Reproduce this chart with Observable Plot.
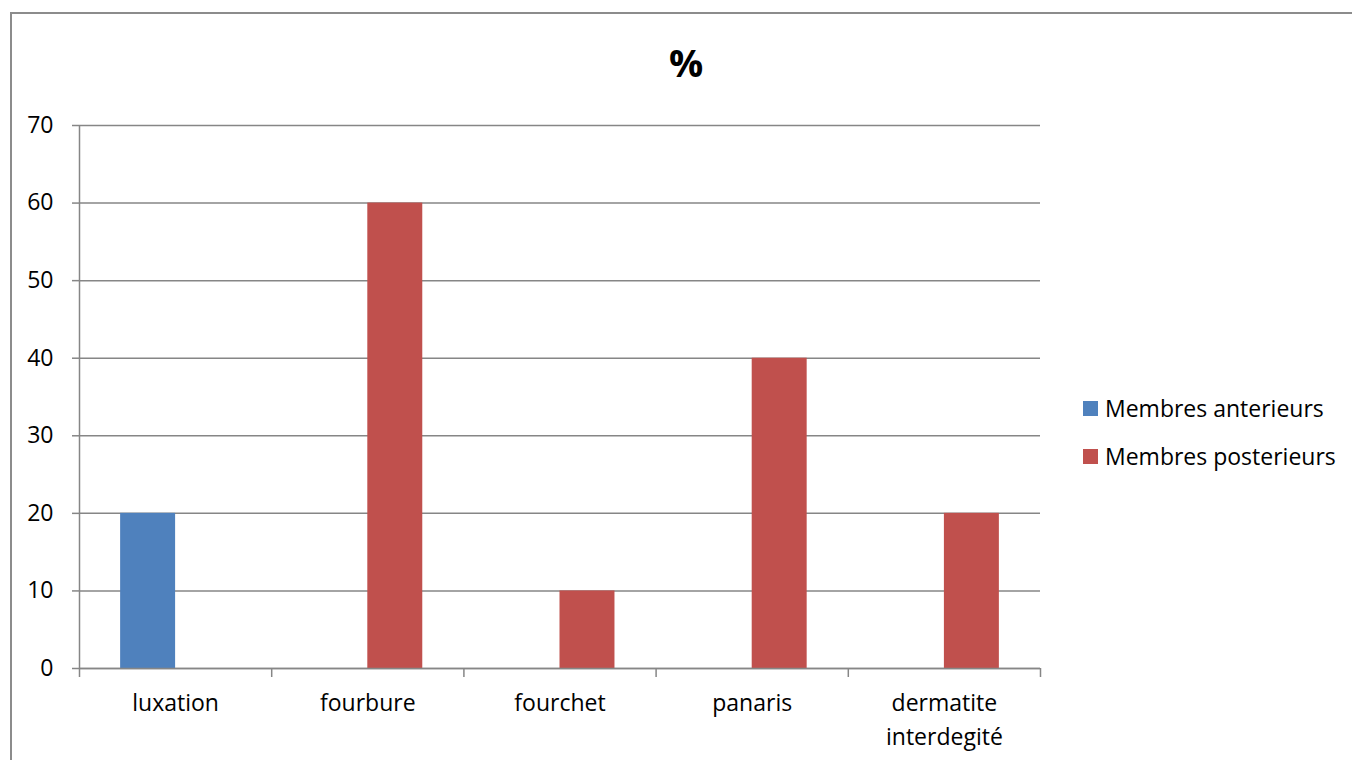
<!DOCTYPE html>
<html>
<head>
<meta charset="utf-8">
<script src="https://cdn.jsdelivr.net/npm/d3@7"></script>
<script src="https://cdn.jsdelivr.net/npm/@observablehq/plot@0.6"></script>
<style>
  html, body { margin: 0; padding: 0; background: #fff; overflow: hidden; }
  #page { position: relative; width: 1352px; height: 760px; font-family: "Open Sans", sans-serif; color: #000; }
  #border { position: absolute; left: 10px; top: 12px; width: 1400px; height: 800px; border: 2px solid #8c8c8c; box-sizing: border-box; }
  #chart { position: absolute; left: 0; top: 0; }
  #title { position: absolute; left: 0; width: 1372px; top: 43px; text-align: center; font-weight: bold; font-size: 38px; line-height: 1; }
  #legend { position: absolute; left: 1083px; top: 384px; font-size: 23px; }
  .item { display: flex; align-items: center; height: 48px; white-space: nowrap; }
  .swatch { width: 15px; height: 15px; margin-right: 7px; flex: none; }
</style>
</head>
<body>
<div id="page">
  <div id="border"></div>
  <div id="chart"></div>
  <div id="title">%</div>
  <div id="legend"></div>
</div>
<script>
// Lesion categories and the share (%) of each, by limb group
const categories = ["luxation", "fourbure", "fourchet", "panaris", "dermatite\ninterdegité"];
const anterieurs = [20, 0, 0, 0, 0];
const posterieurs = [0, 60, 10, 40, 20];
const seriesNames = ["Membres anterieurs", "Membres posterieurs"];
const seriesColors = ["#4F81BD", "#C0504D"];
const yTicks = [0, 10, 20, 30, 40, 50, 60, 70];

const gray = "#868686";
const barWidth = 0.286; // fraction of a category slot taken by one bar

const rows = [];
categories.forEach((c, i) => {
  rows.push({category: c, index: i, series: seriesNames[0], value: anterieurs[i], x1: i + 0.5 - barWidth, x2: i + 0.5});
  rows.push({category: c, index: i, series: seriesNames[1], value: posterieurs[i], x1: i + 0.5, x2: i + 0.5 + barWidth});
});
const bars = rows.filter(d => d.value > 0);
const bounds = d3.range(categories.length + 1);

const chart = Plot.plot({
  width: 1352,
  height: 760,
  marginLeft: 79,
  marginRight: 312,
  marginTop: 125,
  marginBottom: 92,
  style: {fontFamily: "Open Sans, sans-serif", fontSize: "23px", color: "#000", background: "transparent", overflow: "visible"},
  x: {type: "linear", domain: [0, categories.length], axis: null},
  y: {type: "linear", domain: [0, 70], axis: null, label: null},
  color: {domain: seriesNames, range: seriesColors},
  marks: [
    Plot.gridY({ticks: yTicks, stroke: gray, strokeOpacity: 1, strokeWidth: 1.5}),
    Plot.axisY({ticks: yTicks, tickSize: 7, tickPadding: 19, stroke: gray, strokeWidth: 1.5, fill: "#000", fontSize: 23, label: null}),
    Plot.rectY(bars, {x1: "x1", x2: "x2", y1: 0, y2: "value", fill: "series"}),
    Plot.ruleX([0], {stroke: gray, strokeWidth: 1.5}),
    Plot.ruleY([0], {stroke: gray, strokeWidth: 1.5}),
    Plot.axisX({ticks: bounds, tickSize: 9, tickFormat: () => "", stroke: gray, strokeWidth: 1.5, label: null}),
    Plot.text(categories, {x: (d, i) => i + 0.5, y: () => 0, dy: 18, lineAnchor: "top", lineHeight: 1.48, fill: "#000", fontSize: 23, text: d => d})
  ]
});
document.getElementById("chart").appendChild(chart);

const legend = document.getElementById("legend");
seriesNames.forEach((name, i) => {
  const item = document.createElement("div");
  item.className = "item";
  const sw = document.createElement("span");
  sw.className = "swatch";
  sw.style.background = seriesColors[i];
  const label = document.createElement("span");
  label.textContent = name;
  item.appendChild(sw);
  item.appendChild(label);
  legend.appendChild(item);
});
</script>
</body>
</html>
